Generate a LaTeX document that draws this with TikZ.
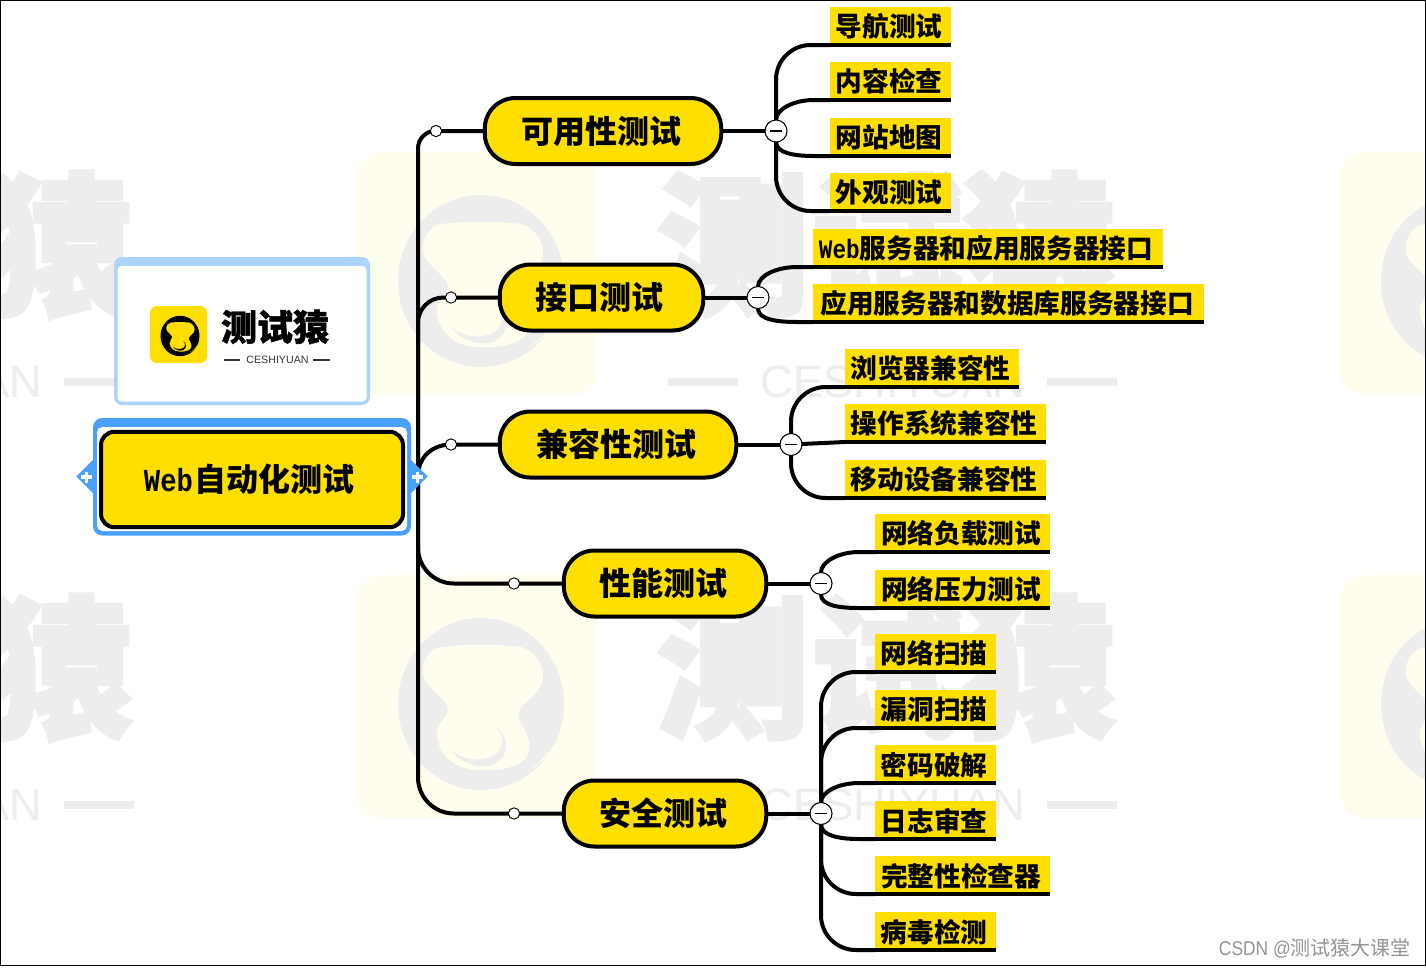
\documentclass[tikz,border=0pt]{standalone}
\usepackage{fontspec}
\setmainfont{Noto Sans CJK SC}
\newfontfamily\heavyf[BoldFeatures={FakeBold=2.5}]{Noto Sans CJK SC}
\newfontfamily\logof[BoldFeatures={FakeBold=1.2}]{Noto Sans CJK SC}
\newfontfamily\webf[FakeStretch=0.85]{Liberation Mono}
\newfontfamily\latf{Liberation Sans}
\newfontfamily\credf[FakeStretch=0.87]{Liberation Sans}
\usetikzlibrary{calc,shapes.geometric}
\pgfdeclarelayer{wm}\pgfdeclarelayer{conn}
\pgfsetlayers{wm,conn,main}
\definecolor{ybg}{HTML}{FFDF00}
\definecolor{wmgray}{HTML}{EDEDED}
\definecolor{wmyel}{HTML}{FFFDEE}
\definecolor{bluea}{HTML}{4AA0FF}
\definecolor{blueb}{HTML}{ABD5FC}
\tikzset{
 conn/.style={draw=black,line width=3pt},
 leafbox/.style={fill=ybg,inner sep=0pt,outer sep=0pt,anchor=north west,minimum height=30pt,
   font=\fontsize{20pt}{24pt}\selectfont\bfseries,
   path picture={\fill[black] (path picture bounding box.south west) rectangle ([yshift=3pt]path picture bounding box.south east);}},
 branchbox/.style={draw=black,fill=ybg,line width=3pt,rounded corners=23pt,inner sep=0pt,minimum height=49.5pt,
   font=\fontsize{24pt}{28pt}\selectfont\bfseries},
 hub/.style={circle,draw=black,fill=white,line width=.8pt,minimum size=16.5pt,inner sep=0pt,outer sep=0pt,
   path picture={\draw[black,line width=.9pt] ([xshift=-4.5pt]path picture bounding box.center) -- ([xshift=4.5pt]path picture bounding box.center);}},
 dotn/.style={circle,draw=black,fill=white,line width=.7pt,minimum size=8.5pt,inner sep=0pt,outer sep=0pt},
 flap/.style={fill=bluea,inner sep=0pt,outer sep=0pt,diamond,aspect=1,minimum size=31pt},
 wmtext/.style={text=wmgray,inner sep=0pt},
 pics/kettle/.style 2 args={code={
   \fill[#1] (0,0) ellipse [x radius=83,y radius=86];
   \fill[#2] (-40,-57) .. controls (-15,-60) and (15,-60) .. (40,-57)
     .. controls (58,-52) and (68,-30) .. (58,-15) .. controls (50,-3) and (34,2) .. (38,15)
     .. controls (42,25) and (50,32) .. (48,48) .. controls (44,62) and (20,68) .. (-2,66)
     .. controls (-25,66) and (-42,52) .. (-44,32) .. controls (-46,20) and (-34,15) .. (-33,5)
     .. controls (-34,-5) and (-54,-15) .. (-58,-28) .. controls (-60,-42) and (-52,-55) .. (-40,-57) -- cycle;
   \fill[#1] (14,22) .. controls (28,32) and (30,50) .. (14,60) .. controls (0,66) and (-20,60) .. (-30,46)
     .. controls (-18,56) and (0,58) .. (12,52) .. controls (24,44) and (24,32) .. (14,22) -- cycle;
   \fill[#2] (85,22) .. controls (78,42) and (60,62) .. (44,68) .. controls (60,60) and (72,44) .. (85,22) -- cycle;
 }}
}
\newcommand\mkleaf[5]{\node[leafbox,minimum width={(#3-#2)*0.75pt}] (#1) at (#2,#4) {\raisebox{2.4pt}{#5\hspace*{2.2pt}}};}
\newcommand\mkbranch[5]{\node[branchbox,minimum width={(#3-#2-3.5)*0.75pt}] (#1) at ({(#2+#3)/2},#4) {#5\hspace*{3pt}};}
\newcommand\longc[2]{\draw[conn,rounded corners=26pt] (#1.center) |- ([yshift=1.5pt]#2.south west);}
\newcommand\upc[2]{\draw[conn] (#1.north) .. controls +(0,-11) and +(-20,0) .. ([xshift=-12pt,yshift=1.5pt]#2.south west) -- ([yshift=1.5pt]#2.south west);}
\newcommand\downc[2]{\draw[conn] (#1.south) .. controls +(0,11) and +(-20,0) .. ([xshift=-12pt,yshift=1.5pt]#2.south west) -- ([yshift=1.5pt]#2.south west);}
\newcommand\wmark[2]{%
  \fill[wmyel,rounded corners=19pt] ({#1+357},{#2+152}) rectangle ({#1+598},{#2+395});
  \pic at ({#1+481},{#2+281}) {kettle={wmgray}{wmyel}};
  \node[wmtext,font=\fontsize{115pt}{130pt}\selectfont\heavyf\bfseries] at ({#1+886},{#2+245}) {测试猿};
  \node[wmtext,font=\fontsize{34pt}{40pt}\selectfont\latf] at ({#1+893},{#2+382}) {CESHIYUAN};
  \fill[wmgray] ({#1+668},{#2+378}) rectangle ({#1+738},{#2+386});
  \fill[wmgray] ({#1+1047},{#2+378}) rectangle ({#1+1117},{#2+386});
}
\begin{document}
\begin{tikzpicture}[x=0.75pt,y=-0.75pt]
\useasboundingbox (0,0) rectangle (1426,967);
\begin{pgfonlayer}{wm}
  \fill[white] (0,0) rectangle (1426,967);
  \begin{scope}
    \clip (0,0) rectangle (1426,967);
    \wmark{-983}{0}
    \wmark{-983}{423}
    \wmark{0}{0}
    \wmark{0}{423}
    \wmark{983}{0}
    \wmark{983}{423}
  \end{scope}
\end{pgfonlayer}

% logo card
\fill[blueb,rounded corners=6pt] (114,257) rectangle (370,405);
\fill[white,rounded corners=3pt] (117.5,266) rectangle (366.5,401.5);
\fill[ybg,rounded corners=5pt] (150,306) rectangle (207,363);
\pic[scale=0.235] at (180,336) {kettle={black}{ybg}};
\node[inner sep=0pt,font=\fontsize{27pt}{30pt}\selectfont\logof\bfseries] (logotext) at (275,327) {测试猿};
\node[inner sep=0pt,font=\fontsize{8pt}{10pt}\selectfont\latf,text=black!80] (logosub) at (277.5,360) {CESHIYUAN};
\fill[black!80] (224,359.3) rectangle (240,360.7);
\fill[black!80] (313,359.3) rectangle (330,360.7);

% root flaps, then frame, then box
\node[flap] (rootL) at (97,476.5) {};
\node[flap] (rootR) at (407,476.5) {};
\fill[bluea,rounded corners=7pt] (93,418) rectangle (411,535.5);
\fill[white,rounded corners=4pt] (97,427) rectangle (407,531);
\node[draw=black,fill=ybg,line width=3pt,rounded corners=10pt,inner sep=0pt,
  minimum width=226.5pt,minimum height=71.5pt,font=\fontsize{24pt}{28pt}\selectfont\bfseries]
  (root) at (252,479.5) {{\webf\bfseries Web}\hspace*{1.5pt}自动化测试\hspace*{3.8pt}};
\draw[white,line width=2.6pt] (81,477) -- (92,477) (86.5,471.5) -- (86.5,482.5);
\draw[white,line width=2.6pt] (412,477) -- (423,477) (417.5,471.5) -- (417.5,482.5);
\coordinate (trunk) at (418,476.5);

% branches
\mkbranch{b1}{483}{723}{131}{可用性测试}
\mkbranch{b2}{498}{705}{297.5}{接口测试}
\mkbranch{b3}{498}{738}{444.5}{兼容性测试}
\mkbranch{b4}{562}{768}{583.5}{性能测试}
\mkbranch{b5}{562}{768}{813.5}{安全测试}

% small dots
\node[dotn] (d1) at (436,131) {};
\node[dotn] (d2) at (451,297.5) {};
\node[dotn] (d3) at (451,444.5) {};
\node[dotn] (d4) at (514,583.5) {};
\node[dotn] (d5) at (514,813.5) {};

% hubs
\node[hub] (h1) at (776,131) {};
\node[hub] (h2) at (758,297.5) {};
\node[hub] (h3) at (791,444.5) {};
\node[hub] (h4) at (821,583.5) {};
\node[hub] (h5) at (821,813.5) {};

% leaves
\mkleaf{l11}{830}{951}{7}{导航测试}
\mkleaf{l12}{830}{951}{62}{内容检查}
\mkleaf{l13}{830}{951}{118}{网站地图}
\mkleaf{l14}{830}{951}{173}{外观测试}
\mkleaf{l21}{813}{1163}{229}{{\webf\bfseries Web}服务器和应用服务器接口\hspace*{.8pt}}
\mkleaf{l22}{813}{1204}{284}{应用服务器和数据库服务器接口}
\mkleaf{l31}{845}{1019}{349}{浏览器兼容性}
\mkleaf{l32}{845}{1046}{404}{操作系统兼容性}
\mkleaf{l33}{845}{1046}{460}{移动设备兼容性}
\mkleaf{l41}{875}{1050}{514}{网络负载测试}
\mkleaf{l42}{875}{1050}{570}{网络压力测试}
\mkleaf{l51}{875}{996}{634}{网络扫描}
\mkleaf{l52}{875}{996}{690}{漏洞扫描}
\mkleaf{l53}{875}{996}{745}{密码破解}
\mkleaf{l54}{875}{996}{801}{日志审查}
\mkleaf{l55}{875}{1050}{856}{完整性检查器}
\mkleaf{l56}{875}{996}{912}{病毒检测}

\begin{pgfonlayer}{conn}
  % trunk
  \draw[conn,rounded corners=13pt] (trunk) |- (b1.west);
  \draw[conn,rounded corners=19pt] (trunk) |- (b2.west);
  \draw[conn] (trunk) .. controls +(0,-20) and +(-18,0) .. (d3.center) -- (b3.west);
  \draw[conn,rounded corners=27pt] (trunk) |- (b4.west);
  \draw[conn,rounded corners=27pt] (trunk) |- (b5.west);
  % branch to hub
  \draw[conn] (b1.east) -- (h1.center);
  \draw[conn] (b2.east) -- (h2.center);
  \draw[conn] (b3.east) -- (h3.center);
  \draw[conn] (b4.east) -- (h4.center);
  \draw[conn] (b5.east) -- (h5.center);
  % hub to leaves
  \longc{h1}{l11}
  \upc{h1}{l12}
  \downc{h1}{l13}
  \longc{h1}{l14}
  \upc{h2}{l21}
  \downc{h2}{l22}
  \longc{h3}{l31}
  \draw[conn] (h3.center) -- ([yshift=1.5pt]l32.south west);
  \longc{h3}{l33}
  \upc{h4}{l41}
  \downc{h4}{l42}
  \longc{h5}{l51}
  \longc{h5}{l52}
  \upc{h5}{l53}
  \downc{h5}{l54}
  \longc{h5}{l55}
  \longc{h5}{l56}
\end{pgfonlayer}

% frame and credit
\draw[black,line width=1pt] (0.5,0.5) rectangle (1425.5,965.5);
\node[inner sep=0pt,anchor=east,text=black!42,font=\fontsize{15pt}{18pt}\selectfont] (credit) at (1411,948) {{\credf CSDN @}测试猿大课堂};
\end{tikzpicture}
\end{document}
